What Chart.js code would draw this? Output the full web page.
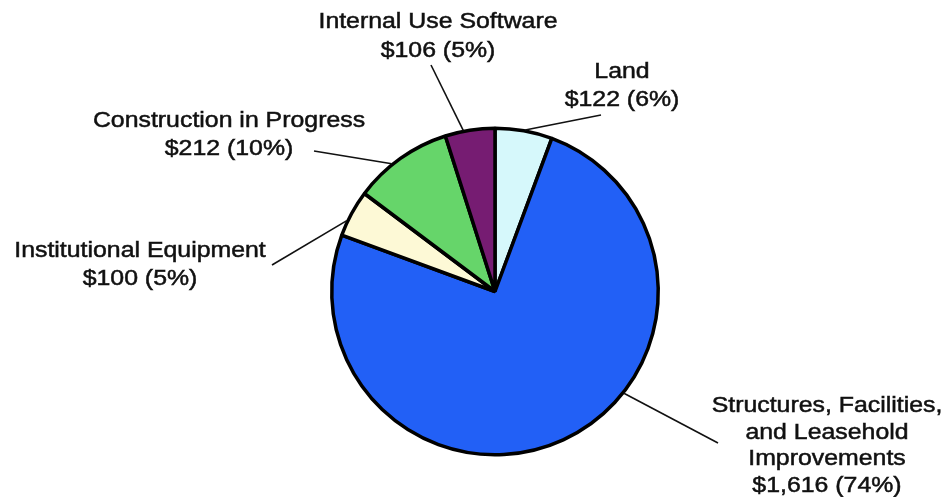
<!DOCTYPE html>
<html>
<head>
<meta charset="utf-8">
<script src="https://cdn.jsdelivr.net/npm/chart.js@4.4.0/dist/chart.umd.min.js"></script>
<style>
  html, body { margin: 0; padding: 0; background: #fff; }
  #wrap { width: 946px; height: 497px; position: relative; }
</style>
</head>
<body>
<div id="wrap"><canvas id="pie"></canvas></div>
<script>
// values in millions of dollars, clockwise from 12 o'clock
const categories = ['Land', 'Structures, Facilities, and Leasehold Improvements', 'Institutional Equipment', 'Construction in Progress', 'Internal Use Software'];
const values = [122, 1616, 100, 212, 106];
const percents = [6, 74, 5, 10, 5];
const labelLines = [
    ['Land', '$122 (6%)'],
    ['Structures, Facilities,', 'and Leasehold', 'Improvements', '$1,616 (74%)'],
    ['Institutional Equipment', '$100 (5%)'],
    ['Construction in Progress', '$212 (10%)'],
    ['Internal Use Software', '$106 (5%)']
];
const colors = ['#d6f8fb', '#2260f6', '#fdf9d6', '#66d56a', '#761c72'];

// label layout: text center x, first baseline y, line gap, leader end (label side), where along the arc the leader touches
const labelLayout = [
    { x: 622, y: 78, gap: 28, lx: 601, ly: 115, frac: 0.52 },
    { x: 827, y: 412, gap: 26.5, lx: 718, ly: 443, frac: 0.40 },
    { x: 140, y: 257, gap: 28, lx: 272, ly: 265, frac: 0.32 },
    { x: 229, y: 127, gap: 28, lx: 314, ly: 151, frac: 0.40 },
    { x: 438, y: 28, gap: 29, lx: 431, ly: 65, frac: 0.37 }
];

const labelPlugin = {
    id: 'pieLabels',
    afterDraw(chart) {
        const ctx = chart.ctx;
        const arcs = chart.getDatasetMeta(0).data;
        ctx.save();
        arcs.forEach((arc, i) => {
            const L = labelLayout[i];
            const a = arc.startAngle + (arc.endAngle - arc.startAngle) * L.frac;
            const r = arc.outerRadius + 1;
            ctx.beginPath();
            ctx.moveTo(arc.x + Math.cos(a) * r, arc.y + Math.sin(a) * r);
            ctx.lineTo(L.lx, L.ly);
            ctx.lineWidth = 1.6;
            ctx.strokeStyle = '#111';
            ctx.stroke();

            ctx.fillStyle = '#111';
            ctx.strokeStyle = '#111';
            ctx.lineWidth = 0.5;
            ctx.font = '22px "Liberation Sans", Arial, sans-serif';
            ctx.textAlign = 'center';
            ctx.textBaseline = 'alphabetic';
            labelLines[i].forEach((line, j) => {
                ctx.save();
                ctx.translate(L.x, L.y + j * L.gap);
                ctx.scale(1.13, 1);
                ctx.fillText(line, 0, 0);
                ctx.strokeText(line, 0, 0);
                ctx.restore();
            });
        });
        ctx.restore();
    }
};

new Chart(document.getElementById('pie'), {
    type: 'pie',
    data: {
        labels: categories,
        datasets: [{
            data: values,
            backgroundColor: colors,
            borderColor: '#000',
            borderWidth: 3.5
        }]
    },
    options: {
        responsive: true,
        maintainAspectRatio: false,
        animation: false,
        rotation: 0,
        layout: { padding: { left: 330, right: 286, top: 126, bottom: 40 } },
        plugins: {
            legend: { display: false },
            tooltip: { enabled: false }
        }
    },
    plugins: [labelPlugin]
});
</script>
</body>
</html>
